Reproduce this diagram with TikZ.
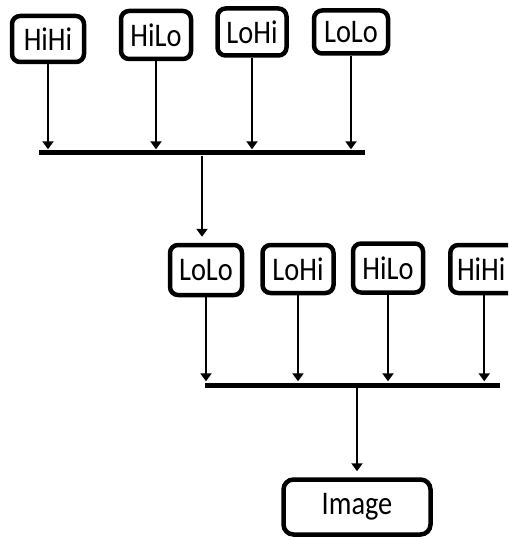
\documentclass[tikz,border=0pt]{standalone}
\usepackage{fontspec}
\setmainfont{Carlito}
\newfontfamily\tagfont[FakeStretch=0.86]{Carlito}
\usetikzlibrary{arrows.meta}
\tikzset{
  tag/.style={draw=black, line width=4.5pt, rounded corners=8pt, fill=white,
    inner sep=0pt, font=\tagfont\fontsize{33}{36}\selectfont, text=black},
  busbar/.style={fill=black, inner sep=0pt, minimum height=5pt},
  arr/.style={line width=2pt, -{Triangle[length=8pt,width=11pt]}, shorten >=1pt}
}
\begin{document}
\begin{tikzpicture}[x=1pt, y=-1pt]
\clip (0,0) rectangle (508,540);
\fill[white] (0,0) rectangle (508,540);

% first stage
\node[tag, minimum width=72pt, minimum height=46pt] (a1) at (48,39) {HiHi};
\node[tag, minimum width=70pt, minimum height=48pt] (a2) at (156,35) {HiLo};
\node[tag, minimum width=69pt, minimum height=47pt] (a3) at (252,32) {LoHi};
\node[tag, minimum width=74pt, minimum height=43pt] (a4) at (351,32) {LoLo};
\node[busbar, minimum width=326pt] (bar1) at (202,153) {};
\foreach \n in {a1,a2,a3,a4}
  \draw[arr] (\n.south) -- (\n.south |- bar1.north);

% second stage
\node[tag, minimum width=72pt, minimum height=50pt] (b1) at (206,270) {LoLo};
\node[tag, minimum width=71pt, minimum height=48pt] (b2) at (298,269) {LoHi};
\node[tag, minimum width=70pt, minimum height=49pt] (b3) at (388,268) {HiLo};
\node[tag, minimum width=72pt, minimum height=48pt, anchor=west] (b4) at (448,269) {\hspace*{-10pt}HiHi};
\draw[arr, shorten >=6pt] (bar1.south) -- (bar1.south |- b1.north);
\node[busbar, minimum width=295pt] (bar2) at (352.5,385) {};
\draw[arr] (b1.south) -- (b1.south |- bar2.north);
\draw[arr] (b2.south) -- (b2.south |- bar2.north);
\draw[arr] (b3.south) -- (b3.south |- bar2.north);
\draw[arr] ([xshift=-2pt]b4.south) -- ([xshift=-2pt]b4.south |- bar2.north);

% output
\node[tag, minimum width=147pt, minimum height=55pt, rounded corners=10pt] (img) at (357,507) {Image};
\draw[arr, shorten >=6pt] (img.north |- bar2.south) -- (img.north);
\end{tikzpicture}
\end{document}
